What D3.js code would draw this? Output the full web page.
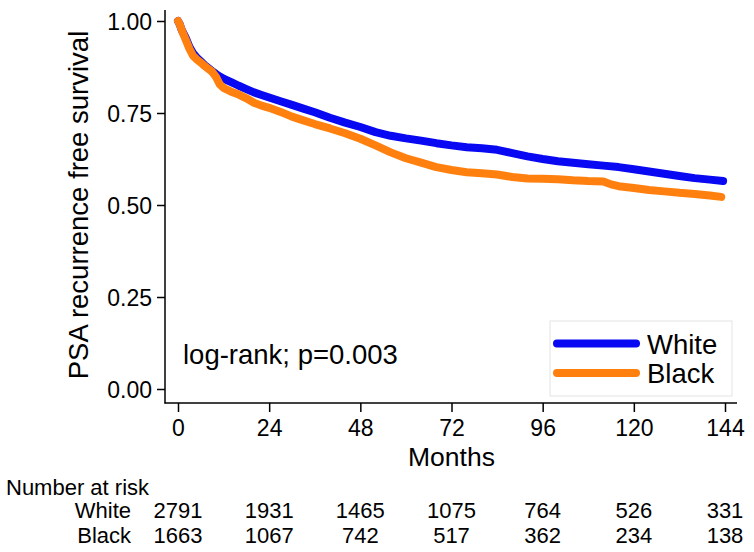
<!DOCTYPE html>
<html>
<head>
<meta charset="utf-8">
<script src="https://cdn.jsdelivr.net/npm/d3@7"></script>
<style>
  html, body { margin: 0; padding: 0; background: #fff; }
  svg { display: block; font-family: Arial, "Liberation Sans", sans-serif; }
</style>
</head>
<body>
<svg id="chart" width="754" height="552"></svg>
<script>
// ---- data ----
const monthsWhite = [0,0.5,1,2,3,4,5,6,7,8,9,10,11,12,14,16,18,20,22,24,27,30,33,36,40,44,48,52,56,60,64,68,72,76,80,84,88,92,96,100,104,108,112,116,120,124,128,132,136,140,143.5];
const survWhite   = [1.0,0.99,0.975,0.955,0.93,0.912,0.90,0.89,0.88,0.872,0.864,0.856,0.849,0.843,0.834,0.824,0.815,0.806,0.799,0.792,0.782,0.772,0.762,0.752,0.737,0.724,0.712,0.698,0.688,0.681,0.675,0.668,0.662,0.657,0.654,0.650,0.641,0.632,0.625,0.619,0.615,0.611,0.607,0.603,0.597,0.591,0.585,0.579,0.573,0.569,0.565];
const monthsBlack = [0,0.5,1,2,3,4,5,6,7,8,9,10,11,12,14,16,18,20,22,24,27,30,33,36,40,44,48,52,56,60,64,68,72,76,80,84,88,92,96,100,104,108,112,114,116,120,124,128,132,136,140,143];
const survBlack   = [1.0,0.99,0.975,0.95,0.925,0.905,0.895,0.887,0.878,0.87,0.862,0.848,0.828,0.818,0.808,0.80,0.79,0.778,0.770,0.764,0.753,0.740,0.730,0.720,0.708,0.695,0.680,0.662,0.643,0.627,0.615,0.603,0.595,0.589,0.586,0.583,0.576,0.572,0.571,0.570,0.567,0.565,0.564,0.556,0.551,0.546,0.541,0.537,0.533,0.530,0.526,0.522];
const seriesNames = ["White", "Black"];
const xTicks = [0,24,48,72,96,120,144];
const yTicks = [0,0.25,0.5,0.75,1.0];
const riskWhite = [2791,1931,1465,1075,764,526,331];
const riskBlack = [1663,1067,742,517,362,234,138];
const pText = "log-rank; p=0.003";

// ---- layout ----
const colors = { White: "#0808f2", Black: "#ff800e" };
const svg = d3.select("#chart");
const x = d3.scaleLinear().domain([0,144]).range([178,725]);
const y = d3.scaleLinear().domain([0,1]).range([389,21]);
const font = "Arial, 'Liberation Sans', sans-serif";

// axes lines
svg.append("line").attr("x1",165).attr("x2",165).attr("y1",10).attr("y2",403.5)
  .attr("stroke","#000").attr("stroke-width",1.5);
svg.append("line").attr("x1",164.5).attr("x2",737).attr("y1",403).attr("y2",403)
  .attr("stroke","#000").attr("stroke-width",1.5);

// y axis
const yAxis = d3.axisLeft(y).tickValues(yTicks).tickFormat(d3.format(".2f")).tickSize(8).tickPadding(5);
const gy = svg.append("g").attr("transform","translate(165,0)").call(yAxis);
gy.select(".domain").remove();
gy.selectAll("line").attr("stroke","#000").attr("stroke-width",1.5);
gy.selectAll("text").attr("font-size",23).attr("font-family",font).attr("fill","#000").attr("dy","0.36em");

// x axis
const xAxis = d3.axisBottom(x).tickValues(xTicks).tickSize(9).tickPadding(8);
const gx = svg.append("g").attr("transform","translate(0,403)").call(xAxis);
gx.select(".domain").remove();
gx.selectAll("line").attr("stroke","#000").attr("stroke-width",1.5);
gx.selectAll("text").attr("font-size",23).attr("font-family",font).attr("fill","#000");

// axis titles
svg.append("text").attr("transform","translate(88,205) rotate(-90)")
  .attr("text-anchor","middle").attr("font-size",27.5).attr("fill","#000")
  .text("PSA recurrence free survival");
svg.append("text").attr("x",x(72)).attr("y",466).attr("text-anchor","middle")
  .attr("font-size",26.5).attr("fill","#000").text("Months");

// curves
const line = d3.line().x(d => x(d[0])).y(d => y(d[1])).curve(d3.curveLinear);
const dataWhite = monthsWhite.map((m,i) => [m, survWhite[i]]);
const dataBlack = monthsBlack.map((m,i) => [m, survBlack[i]]);
[["White", dataWhite], ["Black", dataBlack]].forEach(([name, data]) => {
  svg.append("path").datum(data).attr("d", line)
    .attr("fill","none").attr("stroke",colors[name]).attr("stroke-width",8)
    .attr("stroke-linejoin","round").attr("stroke-linecap","round");
});

// annotation
svg.append("text").attr("x",183).attr("y",364).attr("font-size",27.5).attr("fill","#000").text(pText);

// legend
const lg = svg.append("g");
lg.append("rect").attr("x",550).attr("y",321).attr("width",182).attr("height",75)
  .attr("fill","#fff").attr("stroke","#e4e4e4").attr("stroke-width",1);
seriesNames.forEach((name,i) => {
  const ly = 343.5 + i*29.5;
  lg.append("line").attr("x1",557).attr("x2",636).attr("y1",ly).attr("y2",ly)
    .attr("stroke",colors[name]).attr("stroke-width",8).attr("stroke-linecap","round");
  lg.append("text").attr("x",647).attr("y",ly+10).attr("font-size",27.5).attr("fill","#000").text(name);
});

// number at risk table
svg.append("text").attr("x",6).attr("y",495).attr("font-size",22).attr("fill","#000").text("Number at risk");
[["White", riskWhite, 518], ["Black", riskBlack, 543]].forEach(([name, vals, by]) => {
  svg.append("text").attr("x",131).attr("y",by).attr("text-anchor","end")
    .attr("font-size",22).attr("fill","#000").text(name);
  svg.selectAll(null).data(vals).enter().append("text")
    .attr("x",(d,i) => x(xTicks[i])).attr("y",by).attr("text-anchor","middle")
    .attr("font-size",22).attr("fill","#000").text(d => d);
});
</script>
</body>
</html>
